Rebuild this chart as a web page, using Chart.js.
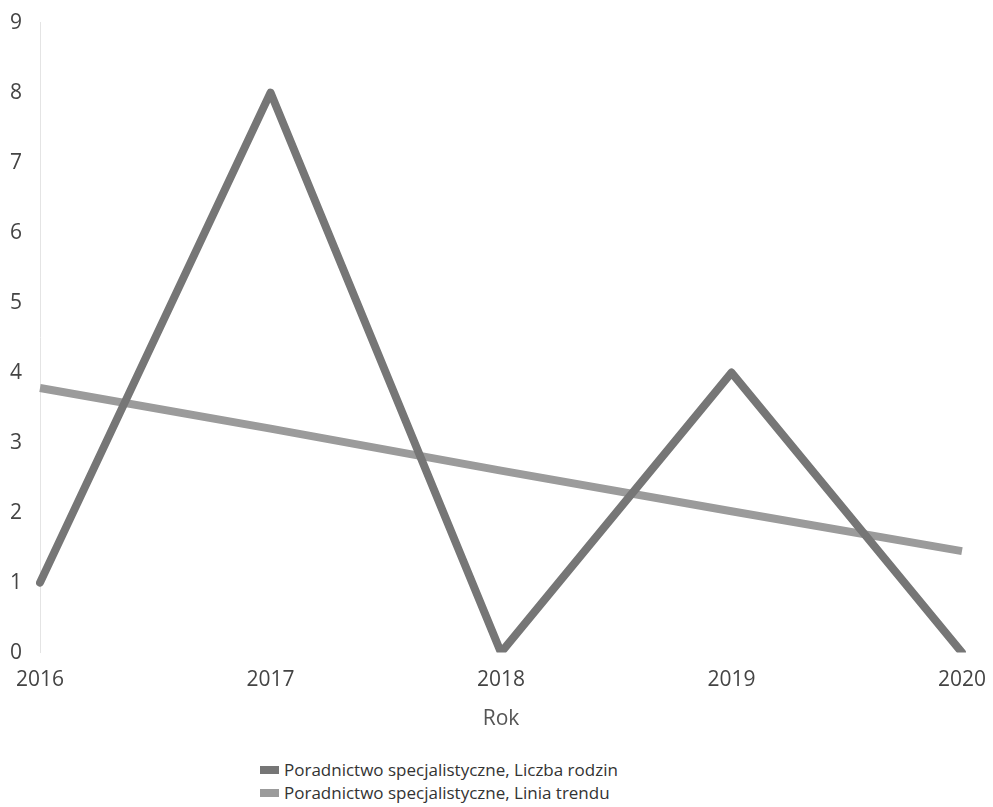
<!DOCTYPE html>
<html>
<head>
<meta charset="utf-8">
<script src="https://cdn.jsdelivr.net/npm/chart.js@4/dist/chart.umd.min.js"></script>
<style>
    html, body {
        margin: 0;
        padding: 0;
        background: #fff;
        font-family: "Open Sans", sans-serif;
    }
    #wrap {
        position: relative;
        width: 993px;
        height: 740px;
    }
    #legend {
        position: absolute;
        left: 260px;
        top: 758px;
        font-size: 17px;
        color: #333;
        line-height: 23px;
    }
    #legend span.box {
        display: inline-block;
        width: 19px;
        height: 8px;
        margin-right: 5px;
        vertical-align: 2px;
    }
</style>
</head>
<body>
<div id="wrap"><canvas id="lineChart"></canvas></div>
<div id="legend"></div>
<script>
const years = ["2016", "2017", "2018", "2019", "2020"];
const familyCounts = [1, 8, 0, 4, 0];
const trendValues = [3.78, 3.2, 2.6, 2.02, 1.45];
const seriesLabels = [
    "Poradnictwo specjalistyczne, Liczba rodzin",
    "Poradnictwo specjalistyczne, Linia trendu"
];
const seriesColors = ["#767676", "#9b9b9b"];
const yTicks = [0, 1, 2, 3, 4, 5, 6, 7, 8, 9];

const ctx = document.getElementById("lineChart");

const lineChart = new Chart(ctx, {
    type: "line",
    data: {
        labels: years,
        datasets: [{
            label: seriesLabels[0],
            data: familyCounts,
            borderColor: seriesColors[0],
            borderWidth: 8,
            pointRadius: 0,
            borderJoinStyle: "round",
            borderCapStyle: "round",
            tension: 0
        }, {
            label: seriesLabels[1],
            data: trendValues,
            borderColor: seriesColors[1],
            borderWidth: 8,
            pointRadius: 0,
            borderCapStyle: "butt",
            tension: 0
        }]
    },
    options: {
        responsive: true,
        maintainAspectRatio: false,
        animation: false,
        layout: {
            padding: { left: 0, right: 15, top: 22, bottom: 8 }
        },
        plugins: {
            legend: { display: false },
            tooltip: { enabled: false }
        },
        scales: {
            x: {
                offset: false,
                grid: { display: false },
                border: { display: false },
                ticks: {
                    color: "#444",
                    font: { family: "Open Sans", size: 21 },
                    maxRotation: 0,
                    padding: 7
                },
                title: {
                    display: true,
                    text: "Rok",
                    color: "#555",
                    font: { family: "Open Sans", size: 21 },
                    padding: { top: 7, bottom: 0 }
                }
            },
            y: {
                min: 0,
                max: 9,
                afterBuildTicks: (axis) => {
                    axis.ticks = yTicks.map(v => ({ value: v }));
                },
                grid: { display: false },
                border: {
                    display: true,
                    color: "#e4e4e4",
                    width: 1,
                    dash: [3, 2]
                },
                ticks: {
                    color: "#444",
                    font: { family: "Open Sans", size: 21 },
                    padding: 10
                }
            }
        }
    }
});

const legendEl = document.getElementById("legend");
legendEl.innerHTML = seriesLabels.map((label, i) =>
    `<div><span class="box" style="background:${seriesColors[i]}"></span>${label}</div>`
).join("");
</script>
</body>
</html>
